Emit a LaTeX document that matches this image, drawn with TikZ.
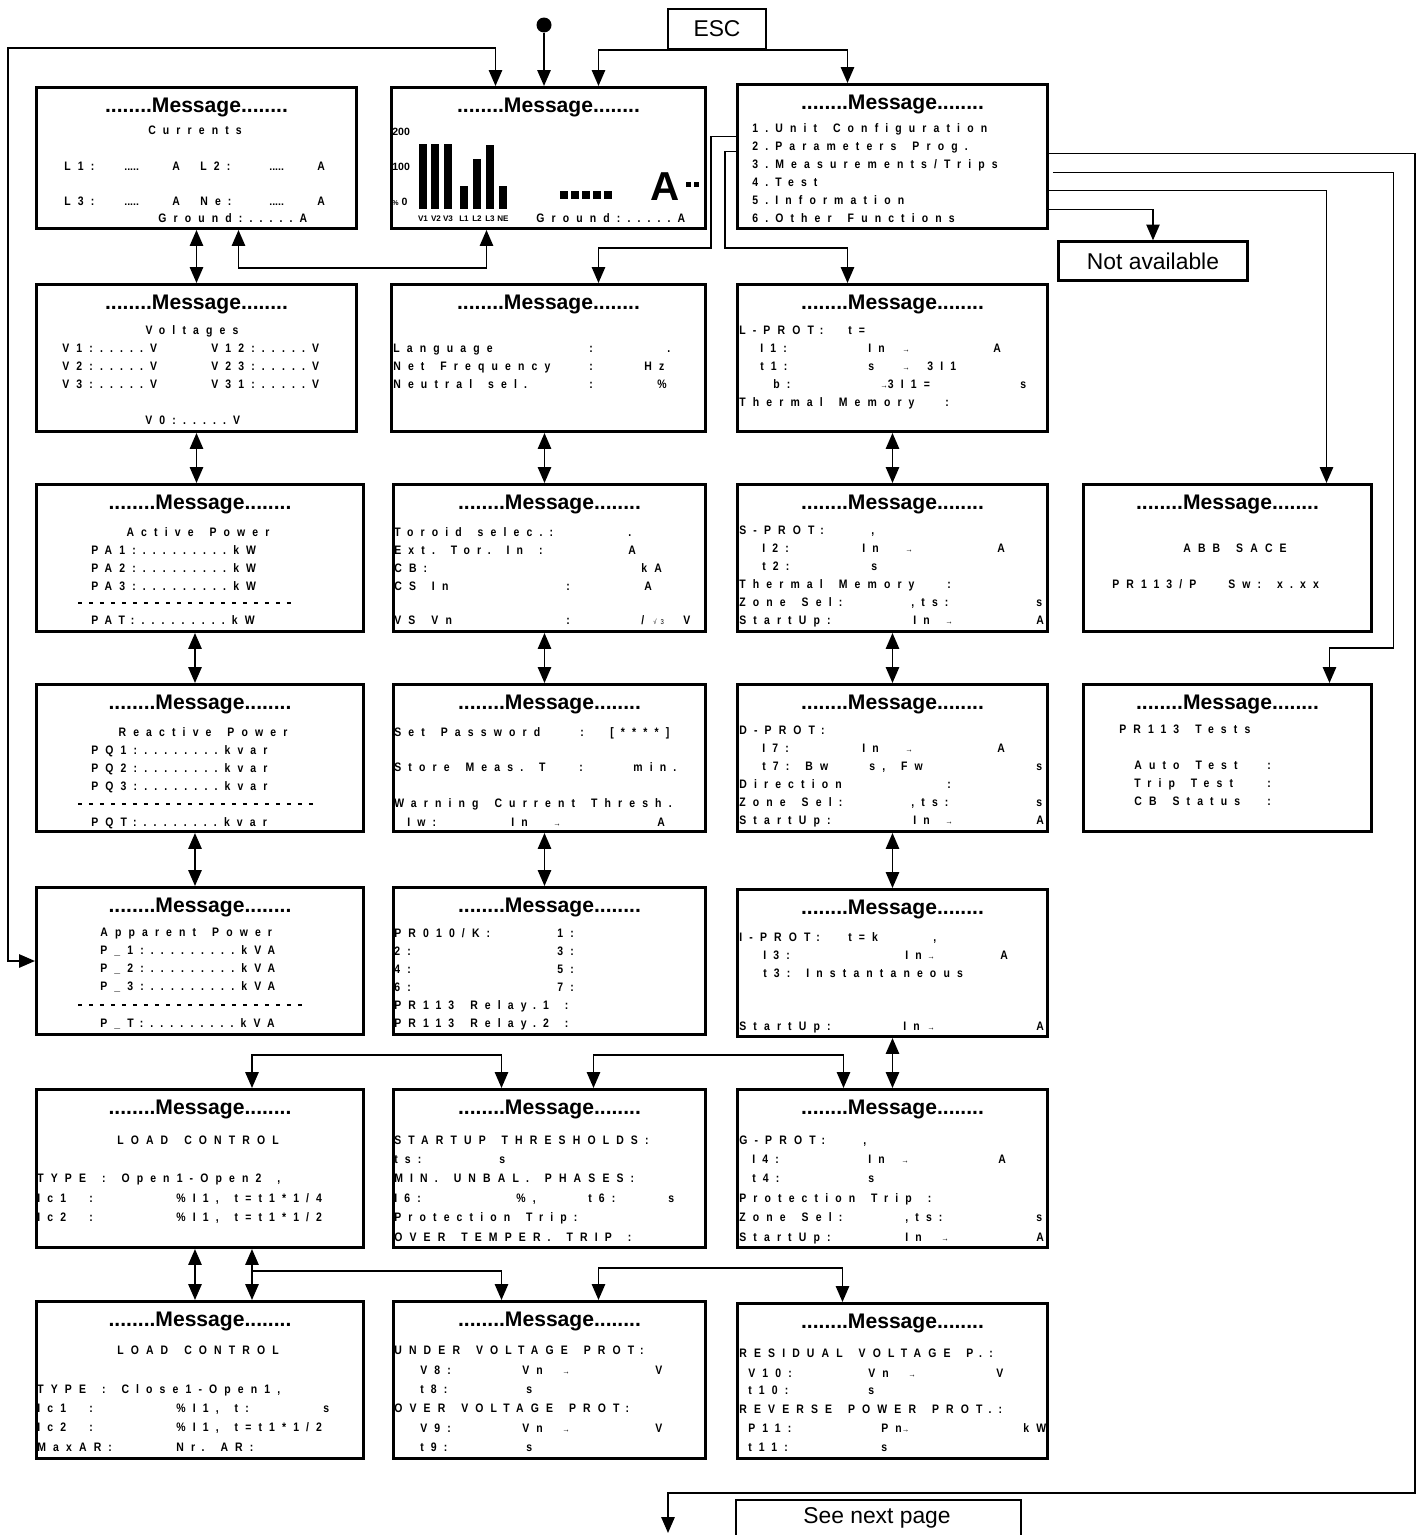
\documentclass[tikz,border=0pt]{standalone}
\usepackage{fontspec}
\setmainfont{Liberation Sans}
\newfontfamily\lcdfont[LetterSpace=58,FakeStretch=0.85]{Liberation Sans}
\usetikzlibrary{arrows.meta,calc}

% text placed on the display grid
\newcommand\lcdsetup{\lcdfont\bfseries\fontsize{7}{8}\selectfont\spaceskip=1.3em\xspaceskip=1.3em\relax}
\newcommand\lcdtxt[3]{\node[lcd] (t#1-#2) at (#1,#2) {#3};}
\newcommand\lcdmid[3]{\node[lcd,anchor=base] (c#1-#2) at (#1,#2) {#3};}
\newcommand\arw{{\mdseries\fontsize{5}{6}\selectfont →}}
\newcommand\fivedots{{\normalfont\bfseries\fontsize{6}{7}\selectfont .....}}

\begin{document}
\begin{tikzpicture}[x=0.02cm, y=-0.02cm]
  % Define box, title, text and arrow styles
  \tikzset{
    msgbox/.style 2 args={draw, line width=1.7pt, anchor=north west, inner sep=0pt,
      minimum width=#1*0.02cm, minimum height=#2*0.02cm},
    plainbox/.style={draw, line width=1.3pt, inner sep=0pt, font=\fontsize{13}{15}\selectfont},
    msgtitle/.style={anchor=base, inner sep=0pt, font=\bfseries\fontsize{12}{14}\selectfont},
    lcd/.style={anchor=base west, inner sep=0pt, font=\lcdsetup},
    axlbl/.style={anchor=base west, inner sep=0pt, font=\bfseries\fontsize{6}{7}\selectfont},
    barlbl/.style={anchor=base, inner sep=0pt, font=\bfseries\fontsize{4.6}{5}\selectfont},
    arr/.style={line width=1.1pt, -{Triangle[width=7.5pt,length=9pt]}},
    arr2/.style={line width=1.1pt, {Triangle[width=7.5pt,length=9pt]}-{Triangle[width=7.5pt,length=9pt]}},
    dashrule/.style={line width=1.1pt, dash pattern=on 0.08cm off 0.14cm}
  }
  \useasboundingbox (0,0) rectangle (1420,1535);

  % message boxes
  \node[msgbox={320}{141}] (mA) at (35,86) {};
  \node[msgbox={314}{141}] (mB) at (390,86) {};
  \node[msgbox={310}{144}] (mC) at (736,83) {};
  \node[msgbox={320}{147}] (mVolt) at (35,283) {};
  \node[msgbox={314}{147}] (mLang) at (390,283) {};
  \node[msgbox={310}{147}] (mLprot) at (736,283) {};
  \node[msgbox={327}{147}] (mAct) at (35,483) {};
  \node[msgbox={312}{147}] (mTor) at (392,483) {};
  \node[msgbox={310}{147}] (mSprot) at (736,483) {};
  \node[msgbox={288}{147}] (mAbb) at (1082,483) {};
  \node[msgbox={327}{147}] (mReact) at (35,683) {};
  \node[msgbox={312}{147}] (mPass) at (392,683) {};
  \node[msgbox={310}{147}] (mDprot) at (736,683) {};
  \node[msgbox={288}{147}] (mTests) at (1082,683) {};
  \node[msgbox={327}{147}] (mApp) at (35,886) {};
  \node[msgbox={312}{147}] (mRel) at (392,886) {};
  \node[msgbox={310}{147}] (mIprot) at (736,888) {};
  \node[msgbox={327}{158}] (mLc1) at (35,1088) {};
  \node[msgbox={312}{158}] (mStart) at (392,1088) {};
  \node[msgbox={310}{158}] (mGprot) at (736,1088) {};
  \node[msgbox={327}{157}] (mLc2) at (35,1300) {};
  \node[msgbox={312}{157}] (mUnder) at (392,1300) {};
  \node[msgbox={310}{155}] (mResid) at (736,1302) {};
  \foreach \m in {mA,mB,mC,mVolt,mLang,mLprot,mAct,mTor,mSprot,mAbb,mReact,mPass,
      mDprot,mTests,mApp,mRel,mIprot,mLc1,mStart,mGprot,mLc2,mUnder,mResid}
    \node[msgtitle] (\m-t) at ($(\m.north)+(0,26)$) {........Message........};

  % currents
  \lcdmid{195}{134}{Currents}
  \lcdtxt{64}{170}{L1:} \lcdtxt{124}{170}{\fivedots} \lcdtxt{172}{170}{A}
  \lcdtxt{200}{170}{L2:} \lcdtxt{269}{170}{\fivedots} \lcdtxt{317}{170}{A}
  \lcdtxt{64}{205}{L3:} \lcdtxt{124}{205}{\fivedots} \lcdtxt{172}{205}{A}
  \lcdtxt{200}{205}{Ne:} \lcdtxt{269}{205}{\fivedots} \lcdtxt{317}{205}{A}
  \lcdtxt{158}{222}{Ground:.....A}

  % bar graph
  \node[axlbl] (ax200) at (392,135) {200};
  \node[axlbl] (ax100) at (392,170) {100};
  \node[axlbl] (ax0) at (392,205) {{\fontsize{4}{5}\selectfont\%} 0};
  \foreach \x/\t in {419/144,431/144,444/144,460/186,473/159,486/145,499/186}
    \fill (\x,\t) rectangle (\x+8,209);
  \foreach \x/\l in {423/V1,436/V2,448/V3,464/L1,477/L2,490/L3,503/NE}
    \node[barlbl] (bar\l) at (\x,221) {\l};
  \foreach \i in {0,...,4}
    \fill (560+\i*11,191) rectangle ++(8,8);
  \node[anchor=base west, inner sep=0pt, font=\bfseries\fontsize{23}{24}\selectfont] (bigA) at (650,200) {A};
  \fill (686,182) rectangle ++(5,5);
  \fill (694,182) rectangle ++(5,5);
  \lcdtxt{536}{222}{Ground:.....A}

  % main menu
  \lcdtxt{752}{132}{1.Unit Configuration}
  \lcdtxt{752}{150}{2.Parameters Prog.}
  \lcdtxt{752}{168}{3.Measurements/Trips}
  \lcdtxt{752}{186}{4.Test}
  \lcdtxt{752}{204}{5.Information}
  \lcdtxt{752}{222}{6.Other Functions}

  % voltages
  \lcdmid{192}{334}{Voltages}
  \lcdtxt{62}{352}{V1:.....V} \lcdtxt{211}{352}{V12:.....V}
  \lcdtxt{62}{370}{V2:.....V} \lcdtxt{211}{370}{V23:.....V}
  \lcdtxt{62}{388}{V3:.....V} \lcdtxt{211}{388}{V31:.....V}
  \lcdtxt{145}{424}{V0:.....V}

  % unit configuration
  \lcdtxt{393}{352}{Language} \lcdtxt{589}{352}{:} \lcdtxt{667}{352}{.}
  \lcdtxt{393}{370}{Net Frequency} \lcdtxt{589}{370}{:} \lcdtxt{644}{370}{Hz}
  \lcdtxt{393}{388}{Neutral sel.} \lcdtxt{589}{388}{:} \lcdtxt{657}{388}{\%}

  % L protection
  \lcdtxt{739}{334}{L-PROT:} \lcdtxt{848}{334}{t=}
  \lcdtxt{760}{352}{I1:} \lcdtxt{868}{352}{In} \lcdtxt{902}{352}{\arw} \lcdtxt{993}{352}{A}
  \lcdtxt{760}{370}{t1:} \lcdtxt{868}{370}{s} \lcdtxt{902}{370}{\arw} \lcdtxt{927}{370}{3I1}
  \lcdtxt{773}{388}{b:} \lcdtxt{880}{388}{\arw3I1=} \lcdtxt{1020}{388}{s}
  \lcdtxt{739}{406}{Thermal Memory} \lcdtxt{945}{406}{:}

  % active power
  \lcdmid{198}{536}{Active Power}
  \lcdtxt{91}{554}{PA1:.........kW}
  \lcdtxt{91}{572}{PA2:.........kW}
  \lcdtxt{91}{590}{PA3:.........kW}
  \draw[dashrule] (78,603) -- (292,603);
  \lcdtxt{91}{624}{PAT:.........kW}

  % toroid
  \lcdtxt{394}{536}{Toroid selec.:} \lcdtxt{628}{536}{.}
  \lcdtxt{394}{554}{Ext. Tor. In :} \lcdtxt{628}{554}{A}
  \lcdtxt{394}{572}{CB:} \lcdtxt{641}{572}{kA}
  \lcdtxt{394}{590}{CS In} \lcdtxt{566}{590}{:} \lcdtxt{644}{590}{A}
  \lcdtxt{394}{624}{VS Vn} \lcdtxt{566}{624}{:} \lcdtxt{641}{624}{/}
  \lcdtxt{653}{624}{{\mdseries\fontsize{4}{5}\selectfont √3}} \lcdtxt{683}{624}{V}

  % S protection
  \lcdtxt{739}{534}{S-PROT:} \lcdtxt{871}{534}{,}
  \lcdtxt{762}{552}{I2:} \lcdtxt{862}{552}{In} \lcdtxt{905}{552}{\arw} \lcdtxt{997}{552}{A}
  \lcdtxt{762}{570}{t2:} \lcdtxt{871}{570}{s}
  \lcdtxt{739}{588}{Thermal Memory} \lcdtxt{947}{588}{:}
  \lcdtxt{739}{606}{Zone Sel:} \lcdtxt{911}{606}{,ts:} \lcdtxt{1036}{606}{s}
  \lcdtxt{739}{624}{StartUp:} \lcdtxt{913}{624}{In} \lcdtxt{945}{624}{\arw} \lcdtxt{1036}{624}{A}

  % information
  \lcdmid{1235}{552}{ABB SACE}
  \lcdtxt{1112}{588}{PR113/P} \lcdtxt{1228}{588}{Sw: x.xx}

  % reactive power
  \lcdmid{203}{736}{Reactive Power}
  \lcdtxt{91}{754}{PQ1:........kvar}
  \lcdtxt{91}{772}{PQ2:........kvar}
  \lcdtxt{91}{790}{PQ3:........kvar}
  \draw[dashrule] (78,804) -- (318,804);
  \lcdtxt{91}{826}{PQT:........kvar}

  % password
  \lcdtxt{394}{736}{Set Password} \lcdtxt{580}{736}{:} \lcdtxt{610}{736}{[****]}
  \lcdtxt{394}{771}{Store Meas. T} \lcdtxt{579}{771}{:} \lcdtxt{633}{771}{min.}
  \lcdtxt{394}{807}{Warning Current Thresh.}
  \lcdtxt{407}{826}{Iw:} \lcdtxt{511}{826}{In} \lcdtxt{553}{826}{\arw} \lcdtxt{657}{826}{A}

  % D protection
  \lcdtxt{739}{734}{D-PROT:}
  \lcdtxt{762}{752}{I7:} \lcdtxt{862}{752}{In} \lcdtxt{905}{752}{\arw} \lcdtxt{997}{752}{A}
  \lcdtxt{762}{770}{t7: Bw} \lcdtxt{869}{770}{s, Fw} \lcdtxt{1036}{770}{s}
  \lcdtxt{739}{788}{Direction} \lcdtxt{947}{788}{:}
  \lcdtxt{739}{806}{Zone Sel:} \lcdtxt{911}{806}{,ts:} \lcdtxt{1036}{806}{s}
  \lcdtxt{739}{824}{StartUp:} \lcdtxt{913}{824}{In} \lcdtxt{945}{824}{\arw} \lcdtxt{1036}{824}{A}

  % tests
  \lcdtxt{1119}{733}{PR113 Tests}
  \lcdtxt{1134}{769}{Auto Test} \lcdtxt{1267}{769}{:}
  \lcdtxt{1134}{787}{Trip Test} \lcdtxt{1267}{787}{:}
  \lcdtxt{1134}{805}{CB Status} \lcdtxt{1267}{805}{:}

  % apparent power
  \lcdtxt{100}{936}{Apparent Power}
  \lcdtxt{100}{954}{P\_1:.........kVA}
  \lcdtxt{100}{972}{P\_2:.........kVA}
  \lcdtxt{100}{990}{P\_3:.........kVA}
  \draw[dashrule] (78,1005) -- (304,1005);
  \lcdtxt{100}{1027}{P\_T:.........kVA}

  % relays
  \lcdtxt{394}{937}{PR010/K:} \lcdtxt{557}{937}{1:}
  \lcdtxt{394}{955}{2:} \lcdtxt{557}{955}{3:}
  \lcdtxt{394}{973}{4:} \lcdtxt{557}{973}{5:}
  \lcdtxt{394}{991}{6:} \lcdtxt{557}{991}{7:}
  \lcdtxt{394}{1009}{PR113 Relay.1 :}
  \lcdtxt{394}{1027}{PR113 Relay.2 :}

  % I protection
  \lcdtxt{739}{941}{I-PROT:} \lcdtxt{848}{941}{t=k} \lcdtxt{933}{941}{,}
  \lcdtxt{763}{959}{I3:} \lcdtxt{905}{959}{In} \lcdtxt{927}{959}{\arw} \lcdtxt{1000}{959}{A}
  \lcdtxt{763}{977}{t3: Instantaneous}
  \lcdtxt{739}{1030}{StartUp:} \lcdtxt{903}{1030}{In} \lcdtxt{927}{1030}{\arw} \lcdtxt{1036}{1030}{A}

  % load control, open
  \lcdmid{198}{1144}{LOAD CONTROL}
  \lcdtxt{37}{1182}{TYPE : Open1-Open2 ,}
  \lcdtxt{37}{1202}{Ic1} \lcdtxt{89}{1202}{:} \lcdtxt{176}{1202}{\%I1, t=t1*1/4}
  \lcdtxt{37}{1221}{Ic2} \lcdtxt{89}{1221}{:} \lcdtxt{176}{1221}{\%I1, t=t1*1/2}

  % startup
  \lcdtxt{394}{1144}{STARTUP THRESHOLDS:}
  \lcdtxt{394}{1163}{ts:} \lcdtxt{499}{1163}{s}
  \lcdtxt{394}{1182}{MIN. UNBAL. PHASES:}
  \lcdtxt{394}{1202}{I6:} \lcdtxt{516}{1202}{\%,} \lcdtxt{588}{1202}{t6:} \lcdtxt{668}{1202}{s}
  \lcdtxt{394}{1221}{Protection Trip:}
  \lcdtxt{394}{1241}{OVER TEMPER. TRIP :}

  % G protection
  \lcdtxt{739}{1144}{G-PROT:} \lcdtxt{863}{1144}{,}
  \lcdtxt{752}{1163}{I4:} \lcdtxt{868}{1163}{In} \lcdtxt{901}{1163}{\arw} \lcdtxt{998}{1163}{A}
  \lcdtxt{752}{1182}{t4:} \lcdtxt{868}{1182}{s}
  \lcdtxt{739}{1202}{Protection Trip :}
  \lcdtxt{739}{1221}{Zone Sel:} \lcdtxt{905}{1221}{,ts:} \lcdtxt{1036}{1221}{s}
  \lcdtxt{739}{1241}{StartUp:} \lcdtxt{905}{1241}{In} \lcdtxt{941}{1241}{\arw} \lcdtxt{1036}{1241}{A}

  % load control, close
  \lcdmid{198}{1354}{LOAD CONTROL}
  \lcdtxt{37}{1393}{TYPE : Close1-Open1,}
  \lcdtxt{37}{1412}{Ic1} \lcdtxt{89}{1412}{:} \lcdtxt{176}{1412}{\%I1, t:} \lcdtxt{323}{1412}{s}
  \lcdtxt{37}{1431}{Ic2} \lcdtxt{89}{1431}{:} \lcdtxt{176}{1431}{\%I1, t=t1*1/2}
  \lcdtxt{37}{1451}{MaxAR:} \lcdtxt{176}{1451}{Nr. AR:}

  % voltage protections
  \lcdtxt{394}{1354}{UNDER VOLTAGE PROT:}
  \lcdtxt{420}{1374}{V8:} \lcdtxt{522}{1374}{Vn} \lcdtxt{562}{1374}{\arw} \lcdtxt{655}{1374}{V}
  \lcdtxt{420}{1393}{t8:} \lcdtxt{526}{1393}{s}
  \lcdtxt{394}{1412}{OVER VOLTAGE PROT:}
  \lcdtxt{420}{1432}{V9:} \lcdtxt{522}{1432}{Vn} \lcdtxt{562}{1432}{\arw} \lcdtxt{655}{1432}{V}
  \lcdtxt{420}{1451}{t9:} \lcdtxt{526}{1451}{s}

  % residual voltage, reverse power
  \lcdtxt{739}{1357}{RESIDUAL VOLTAGE P.:}
  \lcdtxt{748}{1377}{V10:} \lcdtxt{868}{1377}{Vn} \lcdtxt{908}{1377}{\arw} \lcdtxt{996}{1377}{V}
  \lcdtxt{748}{1394}{t10:} \lcdtxt{868}{1394}{s}
  \lcdtxt{739}{1413}{REVERSE POWER PROT.:}
  \lcdtxt{748}{1432}{P11:} \lcdtxt{881}{1432}{Pn\arw} \lcdtxt{1023}{1432}{kW}
  \lcdtxt{748}{1451}{t11:} \lcdtxt{881}{1451}{s}

  % small boxes
  \node[circle, fill, inner sep=0pt, minimum size=0.3cm] (start) at (544,25) {};
  \node[plainbox, minimum width=1.96cm, minimum height=0.8cm] (esc) at (717,29) {ESC};
  \node[plainbox, minimum width=3.78cm, minimum height=0.78cm] (na) at (1153,261) {Not available};
  \node[draw, line width=1.3pt, anchor=north west, minimum width=5.7cm, minimum height=1cm] (next) at (735,1499) {};
  \node[font=\fontsize{13}{15}\selectfont, inner sep=0pt] (nextTxt) at (877,1518) {See next page};

  % entry, escape and return loop
  \draw[arr] (start) -- (start |- mB.north);
  \draw[arr] (esc.south) -| ($(mB.north)+(50,0)$);
  \draw[arr] (esc.south) -| ($(mC.north)+(-45,0)$);
  \coordinate (loopNW) at (8,48);
  \draw[arr2] ($(mB.north)+(-53,0)$) |- (loopNW) |- (mApp.west);
  \draw[arr2] ($(mA.south)+(42,0)$) |- ($(mB.south)+(-62,38)$) -- ($(mB.south)+(-62,0)$);

  % scrolling inside the columns
  \draw[arr2] (mA.south) -- (mVolt.north);
  \draw[arr2] (mVolt.south) -- (mVolt.south |- mAct.north);
  \draw[arr2] ($(mAct.south)+(-5,0)$) -- ($(mReact.north)+(-5,0)$);
  \draw[arr2] ($(mReact.south)+(-5,0)$) -- ($(mApp.north)+(-5,0)$);
  \draw[arr2] ($(mLang.south)+(-4,0)$) -- ($(mTor.north)+(-5,0)$);
  \draw[arr2] ($(mTor.south)+(-5,0)$) -- ($(mPass.north)+(-5,0)$);
  \draw[arr2] ($(mPass.south)+(-5,0)$) -- ($(mRel.north)+(-5,0)$);
  \draw[arr2] (mLprot.south) -- (mSprot.north);
  \draw[arr2] (mSprot.south) -- (mDprot.north);
  \draw[arr2] (mDprot.south) -- (mIprot.north);
  \draw[arr2] (mIprot.south) -- (mGprot.north);

  % menu entries
  \draw[arr] ($(mC.west)+(0,-20)$) -- ++(-25,0) |- ($(mLang.north)+(50,-35)$) -- ($(mLang.north)+(50,0)$);
  \draw[arr] ($(mC.west)+(0,-5)$) -- ++(-11,0) |- ($(mLprot.north)+(-45,-35)$) -- ($(mLprot.north)+(-45,0)$);
  \coordinate (rightDrop) at (1415,1493);
  \coordinate (nextTip) at (668,1533);
  \draw[arr] ($(mC.east)+(0,-3)$) -| (rightDrop) -| (nextTip);
  \draw[arr] ($(mC.east)+(4,16)$) -| ($(mTests.north)+(166,-35)$) -| ($(mTests.north)+(102,0)$);
  \draw[arr] ($(mC.east)+(0,34)$) -| ($(mAbb.north)+(99,0)$);
  \draw[arr] ($(mC.east)+(0,53)$) -| (na.north);

  % lower menus
  \draw[arr2] ($(mLc1.north)+(52,0)$) |- ($(mStart.north)+(-48,-33)$) -- ($(mStart.north)+(-48,0)$);
  \draw[arr2] ($(mStart.north)+(44,0)$) |- ($(mGprot.north)+(-49,-33)$) -- ($(mGprot.north)+(-49,0)$);
  \draw[arr2] ($(mLc1.south)+(-5,0)$) -- ($(mLc2.north)+(-5,0)$);
  \draw[arr2] ($(mLc1.south)+(52,0)$) -- ($(mLc2.north)+(52,0)$);
  \draw[arr] ($(mLc1.south)+(52,22)$) -| ($(mUnder.north)+(-48,0)$);
  \draw[arr2] ($(mUnder.north)+(49,0)$) |- ($(mResid.north)+(-50,-34)$) -- ($(mResid.north)+(-50,0)$);
\end{tikzpicture}
\end{document}
